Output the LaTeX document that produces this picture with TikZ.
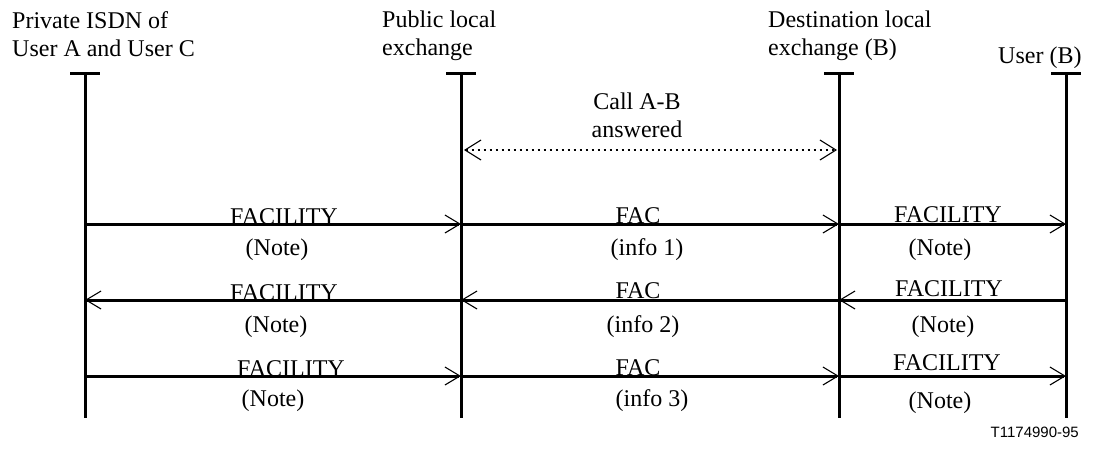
\documentclass[tikz,border=0pt]{standalone}
\usepackage{fontspec}
\setmainfont{Liberation Serif}
\newfontfamily\labelsans{Liberation Sans}
\usetikzlibrary{arrows.meta}

\tikzset{
  txt/.style={inner sep=0pt, font=\fontsize{24}{28}\selectfont},
  head/.style={txt, align=left, anchor=north west},
  lifeline/.style={line width=3pt},
  tick/.style={line width=3pt},
  msg/.style={line width=3pt, -{Straight Barb[length=15pt,width=18pt,line width=1.1pt]}},
  answer/.style={line width=2pt, dash pattern=on 2pt off 4pt,
    {Straight Barb[length=16pt,width=20pt,line width=1.1pt,sep=0pt]}-{Straight Barb[length=16pt,width=20pt,line width=1.1pt]}},
  msglabel/.style={txt, anchor=base},
  notelabel/.style={txt, anchor=center}
}

\begin{document}
\begin{tikzpicture}[x=1pt,y=-1pt]
  \useasboundingbox (0,0) rectangle (1096,448);

  % entity headings
  \node[head] (hA) at (12,11) {Private ISDN of\\User A and User C};
  \node[head] (hP) at (382,11) {Public local\\exchange};
  \node[head] (hD) at (768,11) {Destination local\\exchange (B)};
  \node[txt, anchor=base west] (hU) at (998,63) {User (B)};

  % lifelines with their top bars
  \foreach \n/\x in {A/85, P/461, D/839, U/1066} {
    \coordinate (\n top) at (\x,73);
    \coordinate (\n bot) at (\x,418);
    \coordinate (\n tl) at (\x-15,73);
    \coordinate (\n tr) at (\x+15,73);
    \draw[tick] (\n tl) -- (\n tr);
    \draw[lifeline] (\n top) -- (\n bot);
    \foreach \r/\y in {1/224, 2/300, 3/376} {
      \coordinate (\n\r) at (\x,\y);
    }
  }
  \coordinate (Pans) at (464,150);
  \coordinate (Dans) at (837,150);

  % call answered between the exchanges
  \node[txt, align=center, anchor=south] (ans) at (637,138) {Call A-B\\answered};
  \draw[answer] (Pans) -- (Dans);

  % message labels
  \node[msglabel] (m1a) at (284,224) {FACILITY};
  \node[msglabel] (m1b) at (638,223) {FAC};
  \node[msglabel] (m1c) at (948,222) {FACILITY};
  \node[notelabel] (n1a) at (277,250) {(Note)};
  \node[notelabel] (n1b) at (647,250) {(info 1)};
  \node[notelabel] (n1c) at (940,250) {(Note)};

  \node[msglabel] (m2a) at (284,300) {FACILITY};
  \node[msglabel] (m2b) at (638,298) {FAC};
  \node[msglabel] (m2c) at (949,296) {FACILITY};
  \node[notelabel] (n2a) at (276,327) {(Note)};
  \node[notelabel] (n2b) at (643,327) {(info 2)};
  \node[notelabel] (n2c) at (943,327) {(Note)};

  \node[msglabel] (m3a) at (291,376) {FACILITY};
  \node[msglabel] (m3b) at (638,375) {FAC};
  \node[msglabel] (m3c) at (947,370) {FACILITY};
  \node[notelabel] (n3a) at (273,401) {(Note)};
  \node[notelabel] (n3b) at (652,401) {(info 3)};
  \node[notelabel] (n3c) at (940,403) {(Note)};

  % messages
  \draw[msg] (A1) -- (P1);
  \draw[msg] (P1) -- (D1);
  \draw[msg] (D1) -- (U1);

  \draw[msg] (U2) -- (D2);
  \draw[msg] (D2) -- (P2);
  \draw[msg] (P2) -- (A2);

  \draw[msg] (A3) -- (P3);
  \draw[msg] (P3) -- (D3);
  \draw[msg] (D3) -- (U3);

  % figure reference
  \node[inner sep=0pt, anchor=base east, font=\labelsans\fontsize{15}{18}\selectfont] (ref) at (1079,437) {T1174990-95};
\end{tikzpicture}
\end{document}
